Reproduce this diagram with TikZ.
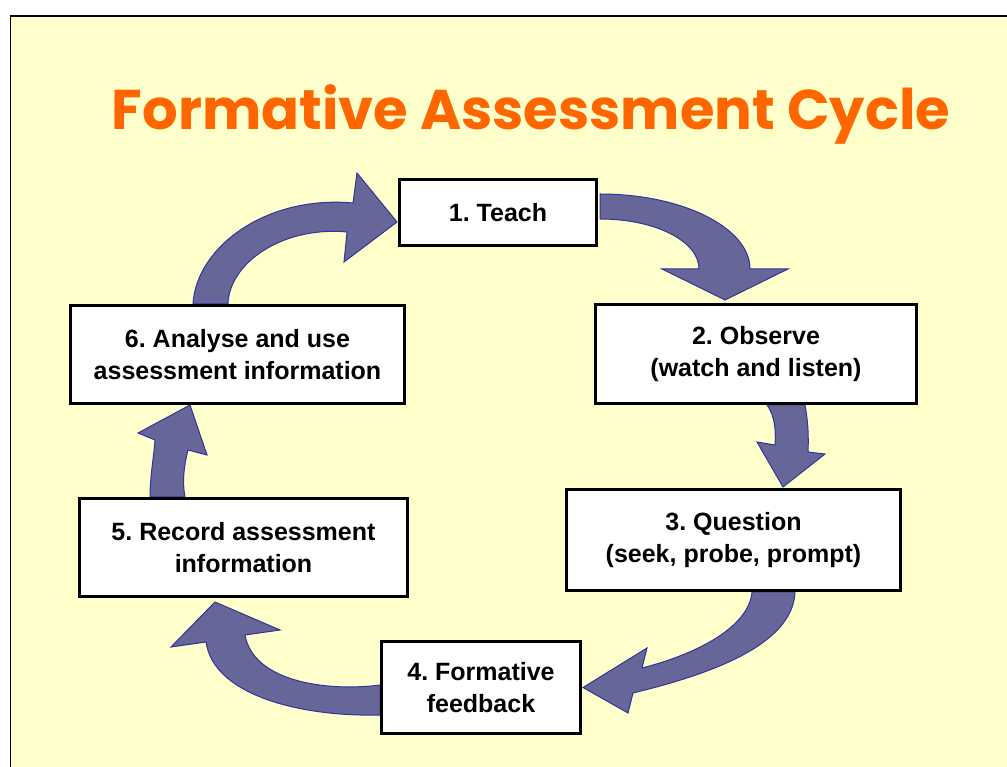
\documentclass[tikz,border=0pt]{standalone}
\usepackage{fontspec}
\setmainfont{Liberation Sans}
\newfontfamily\titlefont{Poppins}
\usepackage{tikz}
\usetikzlibrary{calc,backgrounds}
\definecolor{slidebg}{HTML}{FFFFCC}
\definecolor{titleorange}{HTML}{FF6600}
\definecolor{arrowfill}{HTML}{666699}
\definecolor{arrowline}{HTML}{333399}
\frenchspacing

\begin{document}
\begin{tikzpicture}[x=1pt,y=1pt,
  box_node/.style={rectangle,draw,line width=3pt,fill=white,align=center,inner sep=0pt,
    font=\bfseries\fontsize{25}{32}\selectfont},
  arrow_shape/.style={fill=arrowfill,draw=arrowline,line width=1pt,line join=miter}]
\useasboundingbox (0,0) rectangle (1007,766);
	\node[anchor=base,text=titleorange,font=\titlefont\bfseries\fontsize{56}{60}\selectfont] (title) at (531,636) {Formative Assessment Cycle};
    \node[box_node,minimum width=197,minimum height=66] (1) at (498,553.5) {1. Teach};
    \node[box_node,minimum width=321,minimum height=99] (2) at (756,412) {2. Observe\\(watch and listen)};
    \node[box_node,minimum width=334,minimum height=101] (3) at (733.5,226) {3. Question\\(seek, probe, prompt)};
    \node[box_node,minimum width=199,minimum height=92] (4) at (481,78.5) {4. Formative\\feedback};
    \node[box_node,minimum width=328,minimum height=98] (5) at (243.5,218.5) {5. Record assessment\\information};
    \node[box_node,minimum width=334,minimum height=98] (6) at (237.5,411.5) {6. Analyse and use\\assessment information};
\begin{scope}[on background layer]
\draw[fill=slidebg,line width=1.5pt] (10.5,750) rectangle (1030,-20);
% 6 -> 1
\draw[arrow_shape] ($(6.north)+(-44.5,0)$) .. controls +(3,56) and +(-88,8) .. ($(1.west)+(-45,9.5)$)
  -- ($(1.west)+(-41,39.5)$) -- ($(1.west)+(-1,-9.5)$) -- ($(1.west)+(-54,-49.5)$) -- ($(1.west)+(-51,-19.5)$)
  .. controls +(-66,6) and +(1,40) .. ($(6.north)+(-9.5,0)$) -- cycle;
% 1 -> 2
\draw[arrow_shape] ($(1.east)+(2,18.5)$) .. controls +(83,0) and +(0,41) .. ($(2.north)+(-6,34)$)
  -- ($(2.north)+(32,34)$) -- ($(2.north)+(-31,3)$) -- ($(2.north)+(-94,34)$) -- ($(2.north)+(-57,34)$)
  .. controls +(0,28) and +(55,0) .. ($(1.east)+(2,-6.5)$) -- cycle;
% 2 -> 3
\draw[arrow_shape] ($(2.south)+(11,0)$) .. controls +(8,-11) and +(1,14) .. ($(3.north)+(41.5,43)$)
  -- ($(3.north)+(23.5,46)$) -- ($(3.north)+(49.5,1)$) -- ($(3.north)+(91.5,34)$) -- ($(3.north)+(74.5,36)$)
  .. controls +(1,21) and +(2,-11) .. ($(2.south)+(49,0)$) -- cycle;
% 3 -> 4
\draw[arrow_shape] ($(3.south)+(61.5,0)$) .. controls +(-2,-55) and +(70,17) .. ($(4.east)+(51,-5.5)$)
  -- ($(4.east)+(46,-25.5)$) -- ($(4.east)+(1,0)$) -- ($(4.east)+(65,39.5)$) -- ($(4.east)+(60,19.5)$)
  .. controls +(55,14) and +(-3,-35) .. ($(3.south)+(18.5,0)$) -- cycle;
% 4 -> 5
\draw[arrow_shape] ($(4.west)+(0,-27.5)$) .. controls +(-75,-2) and +(8,-55) .. ($(5.south)+(-37.5,-44)$)
  -- ($(5.south)+(-72.5,-49)$) -- ($(5.south)+(-28.5,-4)$) -- ($(5.south)+(36.5,-32)$) -- ($(5.south)+(1.5,-37)$)
  .. controls +(8,-46) and +(-55,-7) .. ($(4.west)+(0,2.5)$) -- cycle;
% 5 -> 6
\draw[arrow_shape] ($(5.north)+(-93.5,0)$) .. controls +(0,21) and +(-1,-16) .. ($(6.south)+(-82.5,-35)$)
  -- ($(6.south)+(-99.5,-28)$) -- ($(6.south)+(-47.5,0)$) -- ($(6.south)+(-30.5,-50)$) -- ($(6.south)+(-49.5,-45)$)
  .. controls +(-4,-16) and +(-3,16) .. ($(5.north)+(-58.5,0)$) -- cycle;
\end{scope}
\end{tikzpicture}
\end{document}
